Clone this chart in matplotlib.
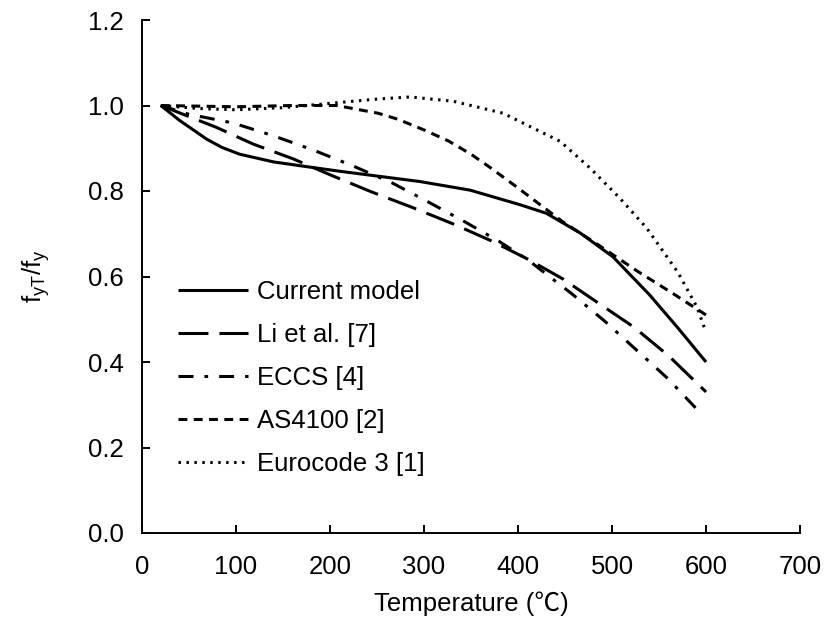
"""
Normalised yield strength f_yT/f_y against temperature: current model vs. code curves.
Output: out.png (831x625).
"""

import matplotlib.pyplot as plt

# values
current_T = [20, 40, 69, 85, 104, 140, 175, 211, 250, 296, 349, 402, 430, 466, 501, 540, 570, 600]
current_v = [1.0, 0.965, 0.921, 0.902, 0.886, 0.868, 0.857, 0.846, 0.835, 0.822, 0.802, 0.768,
             0.748, 0.702, 0.646, 0.557, 0.48, 0.40]

li_T = [20, 79, 118, 161, 200, 244, 287, 331, 372, 411, 448, 484, 523, 560, 600]
li_v = [1.0, 0.949, 0.910, 0.875, 0.838, 0.798, 0.762, 0.723, 0.683, 0.640, 0.594, 0.540,
        0.482, 0.415, 0.33]

eccs_T = [20, 49, 97, 140, 182, 224, 266, 304, 345, 380, 411, 457, 492, 526, 560, 590]
eccs_v = [1.0, 0.98, 0.959, 0.929, 0.896, 0.859, 0.819, 0.775, 0.726, 0.682, 0.638, 0.560,
          0.496, 0.428, 0.36, 0.29]

as_T = [20, 100, 160, 207, 251, 272, 301, 326, 350, 371, 397, 447, 484, 528, 565, 600]
as_v = [1.0, 0.997, 1.0, 1.0, 0.982, 0.968, 0.942, 0.917, 0.886, 0.854, 0.812, 0.729, 0.676,
        0.611, 0.56, 0.51]

ec3_T = [20, 60, 100, 150, 200, 250, 285, 331, 384, 445, 477, 508, 537, 570, 590, 600]
ec3_v = [1.0, 0.993, 0.99, 0.995, 1.005, 1.015, 1.02, 1.01, 0.982, 0.916, 0.853, 0.784,
         0.713, 0.61, 0.53, 0.47]

SERIES = [
    ("Current model", current_T, current_v, "-"),
    ("Li et al. [7]", li_T, li_v, (0, (9.8, 3.6))),
    ("ECCS [4]", eccs_T, eccs_v, (0, (4.9, 3.6, 1.2, 3.6))),
    ("AS4100 [2]", as_T, as_v, (0, (2.9, 2.1))),
    ("Eurocode 3 [1]", ec3_T, ec3_v, (0, (0.8, 1.8))),
]

x_ticks = [0, 100, 200, 300, 400, 500, 600, 700]
y_ticks = [0.0, 0.2, 0.4, 0.6, 0.8, 1.0, 1.2]

# Liberation Sans has no ℃ glyph, the CJK family supplies the full-width one
plt.rcParams["font.family"] = ["Liberation Sans", "Noto Sans CJK SC", "DejaVu Sans"]
plt.rcParams["mathtext.fontset"] = "custom"
plt.rcParams["mathtext.rm"] = "Liberation Sans"
plt.rcParams["mathtext.it"] = "Liberation Sans"

FS = 18.5

fig = plt.figure(figsize=(8.31, 6.25), dpi=100)
ax = fig.add_axes([0.1709, 0.1472, 0.7918, 0.8208])

for label, xs, ys, ls in SERIES:
    ax.plot(xs, ys, color="black", linewidth=2.2, linestyle=ls, label=label,
            solid_capstyle="butt", dash_capstyle="butt")

ax.set_xlim(0, 700)
ax.set_ylim(0, 1.2)
ax.set_xticks(x_ticks)
ax.set_yticks(y_ticks)
ax.set_yticklabels([f"{v:.1f}" for v in y_ticks])

for side in ("top", "right"):
    ax.spines[side].set_visible(False)
for side in ("left", "bottom"):
    ax.spines[side].set_linewidth(1.4)

ax.tick_params(direction="in", length=6, width=1.4, labelsize=FS, pad=13)
ax.tick_params(axis="x", pad=16)

ax.set_xlabel("Temperature (\u2103)", fontsize=FS, labelpad=9)
ax.set_ylabel(r"f$_{\mathrm{yT}}$/f$_{\mathrm{y}}$", fontsize=FS, labelpad=26)

ax.legend(loc="upper left", bbox_to_anchor=(0.054, 0.494), frameon=False, fontsize=FS,
          handlelength=2.75, handletextpad=0.35, labelspacing=0.74,
          borderpad=0, borderaxespad=0)

fig.savefig("out.png", dpi=100)
